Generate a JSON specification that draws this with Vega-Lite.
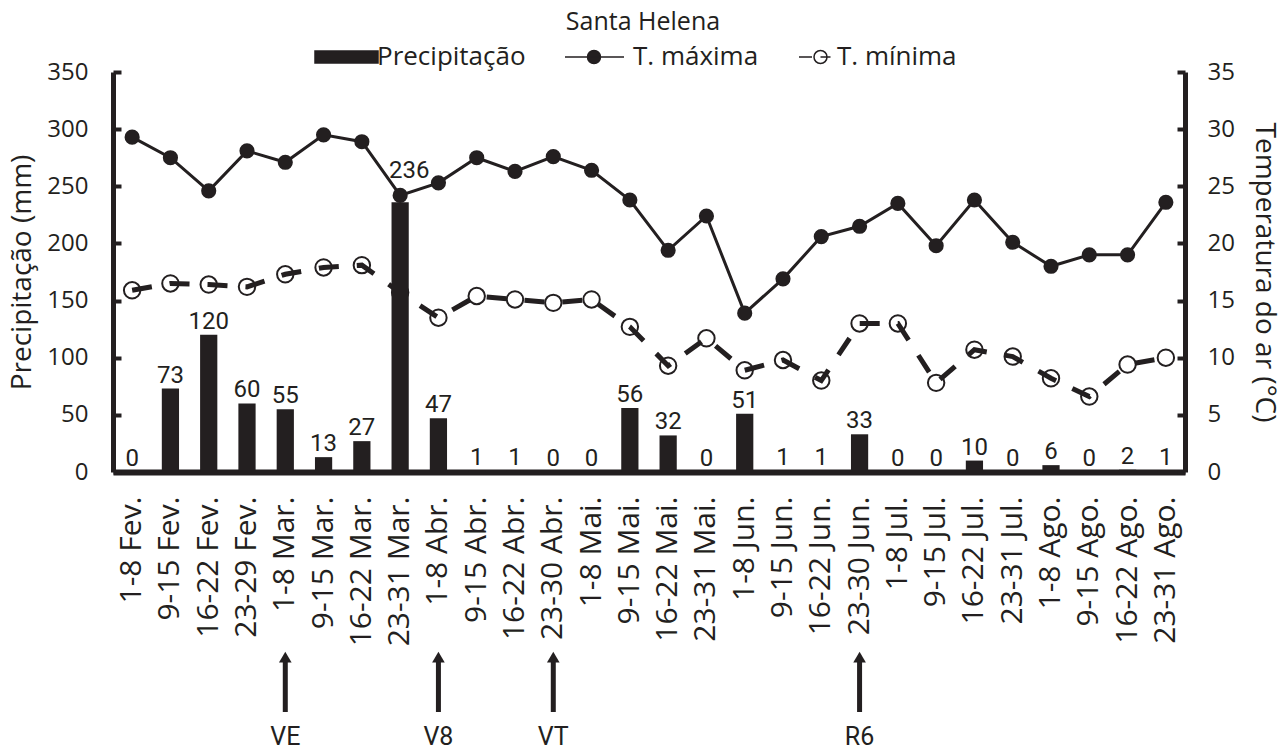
{
  "$schema": "https://vega.github.io/schema/vega-lite/v6.json",
  "autosize": {"type": "none"},
  "width": 1072,
  "height": 400,
  "padding": {"left": 113, "top": 72, "right": 101, "bottom": 279},
  "background": "white",
  "config": {
    "view": {"stroke": null},
    "font": "Open Sans",
    "axis": {"grid": false}
  },
  "title": {
    "text": "Santa Helena",
    "anchor": "middle",
    "frame": "group",
    "dx": -6,
    "offset": 9,
    "font": "Open Sans",
    "fontSize": 25,
    "fontWeight": "normal",
    "color": "#231f20"
  },
  "data": {
    "values": [
      {"period": "1-8 Fev.", "precip": 0, "tmax": 29.3, "tmin": 15.9},
      {"period": "9-15 Fev.", "precip": 73, "tmax": 27.5, "tmin": 16.5},
      {"period": "16-22 Fev.", "precip": 120, "tmax": 24.6, "tmin": 16.4},
      {"period": "23-29 Fev.", "precip": 60, "tmax": 28.1, "tmin": 16.2},
      {"period": "1-8 Mar.", "precip": 55, "tmax": 27.1, "tmin": 17.3},
      {"period": "9-15 Mar.", "precip": 13, "tmax": 29.5, "tmin": 17.9},
      {"period": "16-22 Mar.", "precip": 27, "tmax": 28.9, "tmin": 18.1},
      {"period": "23-31 Mar.", "precip": 236, "tmax": 24.2, "tmin": 15.7},
      {"period": "1-8 Abr.", "precip": 47, "tmax": 25.3, "tmin": 13.5},
      {"period": "9-15 Abr.", "precip": 1, "tmax": 27.5, "tmin": 15.4},
      {"period": "16-22 Abr.", "precip": 1, "tmax": 26.3, "tmin": 15.1},
      {"period": "23-30 Abr.", "precip": 0, "tmax": 27.6, "tmin": 14.8},
      {"period": "1-8 Mai.", "precip": 0, "tmax": 26.4, "tmin": 15.1},
      {"period": "9-15 Mai.", "precip": 56, "tmax": 23.8, "tmin": 12.7},
      {"period": "16-22 Mai.", "precip": 32, "tmax": 19.4, "tmin": 9.3},
      {"period": "23-31 Mai.", "precip": 0, "tmax": 22.4, "tmin": 11.7},
      {"period": "1-8 Jun.", "precip": 51, "tmax": 13.9, "tmin": 8.9},
      {"period": "9-15 Jun.", "precip": 1, "tmax": 16.9, "tmin": 9.8},
      {"period": "16-22 Jun.", "precip": 1, "tmax": 20.6, "tmin": 8.0},
      {"period": "23-30 Jun.", "precip": 33, "tmax": 21.5, "tmin": 13.0},
      {"period": "1-8 Jul.", "precip": 0, "tmax": 23.5, "tmin": 13.0},
      {"period": "9-15 Jul.", "precip": 0, "tmax": 19.8, "tmin": 7.8},
      {"period": "16-22 Jul.", "precip": 10, "tmax": 23.8, "tmin": 10.7},
      {"period": "23-31 Jul.", "precip": 0, "tmax": 20.1, "tmin": 10.1},
      {"period": "1-8 Ago.", "precip": 6, "tmax": 18.0, "tmin": 8.2},
      {"period": "9-15 Ago.", "precip": 0, "tmax": 19.0, "tmin": 6.6},
      {"period": "16-22 Ago.", "precip": 2, "tmax": 19.0, "tmin": 9.4},
      {"period": "23-31 Ago.", "precip": 1, "tmax": 23.6, "tmin": 10.0}
    ]
  },
  "encoding": {
    "x": {
      "field": "period",
      "type": "nominal",
      "sort": null,
      "scale": {
        "domain": ["1-8 Fev.", "9-15 Fev.", "16-22 Fev.", "23-29 Fev.", "1-8 Mar.", "9-15 Mar.", "16-22 Mar.", "23-31 Mar.", "1-8 Abr.", "9-15 Abr.", "16-22 Abr.", "23-30 Abr.", "1-8 Mai.", "9-15 Mai.", "16-22 Mai.", "23-31 Mai.", "1-8 Jun.", "9-15 Jun.", "16-22 Jun.", "23-30 Jun.", "1-8 Jul.", "9-15 Jul.", "16-22 Jul.", "23-31 Jul.", "1-8 Ago.", "9-15 Ago.", "16-22 Ago.", "23-31 Ago."],
        "paddingInner": 0.55,
        "paddingOuter": 0.275
      },
      "axis": {
        "title": null,
        "labelAngle": -90,
        "labelAlign": "right",
        "labelBaseline": "middle",
        "ticks": false,
        "domainWidth": 6,
        "domainColor": "#231f20",
        "labelFont": "Open Sans",
        "labelFontSize": 30,
        "labelColor": "#231f20",
        "labelPadding": 24
      }
    }
  },
  "layer": [
    {
      "encoding": {
        "y": {
          "type": "quantitative",
          "scale": {"domain": [0, 35], "nice": false},
          "axis": {
            "orient": "right",
            "title": "Temperatura do ar (°C)",
            "values": [0, 5, 10, 15, 20, 25, 30, 35],
            "tickSize": -8,
            "tickWidth": 4,
            "tickColor": "#231f20",
            "domainWidth": 5,
            "domainColor": "#231f20",
            "labelFont": "Open Sans",
            "labelFontSize": 24,
            "labelColor": "#231f20",
            "labelPadding": 30,
            "titleFont": "Open Sans",
            "titleFontSize": 28,
            "titleFontWeight": "normal",
            "titleColor": "#231f20",
            "titlePadding": 15
          }
        }
      },
      "layer": [
        {
          "mark": {"type": "point", "shape": "circle", "filled": true, "fill": "white", "stroke": "#231f20", "strokeWidth": 2, "size": 270, "opacity": 1},
          "encoding": {"y": {"field": "tmin", "type": "quantitative"}}
        },
        {
          "mark": {"type": "line", "strokeWidth": 5, "strokeDash": [20, 18], "strokeCap": "butt"},
          "encoding": {
            "y": {"field": "tmin", "type": "quantitative"},
            "color": {"datum": "T. mínima"}
          }
        },
        {
          "mark": {"type": "line", "strokeWidth": 3},
          "encoding": {
            "y": {"field": "tmax", "type": "quantitative"},
            "color": {"datum": "T. máxima"}
          }
        },
        {
          "mark": {"type": "point", "shape": "circle", "filled": true, "color": "#231f20", "size": 230, "opacity": 1},
          "encoding": {"y": {"field": "tmax", "type": "quantitative"}}
        }
      ]
    },
    {
      "encoding": {
        "y": {
          "type": "quantitative",
          "scale": {"domain": [0, 350], "nice": false},
          "axis": {
            "orient": "left",
            "title": "Precipitação (mm)",
            "values": [0, 50, 100, 150, 200, 250, 300, 350],
            "tickSize": -8,
            "tickWidth": 4,
            "tickColor": "#231f20",
            "domainWidth": 5,
            "domainColor": "#231f20",
            "labelFont": "Open Sans",
            "labelFontSize": 24,
            "labelColor": "#231f20",
            "labelPadding": 33,
            "titleFont": "Open Sans",
            "titleFontSize": 28,
            "titleFontWeight": "normal",
            "titleColor": "#231f20",
            "titlePadding": 10
          }
        }
      },
      "layer": [
        {
          "mark": {"type": "bar"},
          "encoding": {
            "y": {"field": "precip", "type": "quantitative"},
            "color": {
              "datum": "Precipitação",
              "scale": {"domain": ["Precipitação", "T. máxima", "T. mínima"], "range": ["#231f20", "#231f20", "#231f20"]},
              "legend": {
                "title": null,
                "orient": "none",
                "direction": "horizontal",
                "legendX": 220.5,
                "legendY": -28,
                "padding": 0,
                "symbolSize": 400,
                "labelOffset": 17.5,
                "columnPadding": 35,
                "labelFont": "Open Sans",
                "labelFontSize": 26,
                "labelColor": "#231f20",
                "labelLimit": 400,
                "encode": {
                  "symbols": {
                    "update": {
                      "shape": {"signal": "datum.value === 'Precipitação' ? 'M-3.15,-0.6H3.15V0.6H-3.15Z' : datum.value === 'T. máxima' ? 'M-3.75,0H2.15M-0.2,0A0.65,0.65,0,1,1,-1.5,0A0.65,0.65,0,1,1,-0.2,0Z' : 'M-0.75,0H0.55M2.05,0A0.65,0.65,0,1,1,0.75,0A0.65,0.65,0,1,1,2.05,0A0.65,0.65,0,1,0,0.75,0A0.65,0.65,0,1,0,2.05,0M1.4,0H2.4'"},
                      "strokeDash": {"value": []},
                      "opacity": {"value": 1}
                    }
                  }
                }
              }
            }
          }
        },
        {
          "transform": [{"filter": "datum.precip <= 200"}],
          "mark": {"type": "text", "baseline": "alphabetic", "dy": -6, "font": "Roboto", "fontSize": 24, "color": "#231f20"},
          "encoding": {
            "y": {"field": "precip", "type": "quantitative"},
            "text": {"field": "precip", "type": "quantitative"}
          }
        },
        {
          "transform": [{"filter": "datum.precip > 200"}],
          "mark": {"type": "text", "baseline": "alphabetic", "dy": -24, "dx": 9, "font": "Roboto", "fontSize": 24, "color": "#231f20"},
          "encoding": {
            "y": {"field": "precip", "type": "quantitative"},
            "text": {"field": "precip", "type": "quantitative"}
          }
        },
        {
          "data": {
            "values": [
              {"period": "1-8 Mar.", "stage": "VE"},
              {"period": "1-8 Abr.", "stage": "V8"},
              {"period": "23-30 Abr.", "stage": "VT"},
              {"period": "23-30 Jun.", "stage": "R6"}
            ]
          },
          "layer": [
            {
              "mark": {"type": "rule", "strokeWidth": 5, "color": "#231f20"},
              "encoding": {"y": {"datum": -165}, "y2": {"datum": -210}}
            },
            {
              "mark": {"type": "point", "shape": "triangle-up", "filled": true, "color": "#231f20", "size": 160, "opacity": 1},
              "encoding": {"y": {"datum": -162}}
            },
            {
              "mark": {"type": "text", "baseline": "middle", "font": "Roboto", "fontSize": 25, "color": "#231f20"},
              "encoding": {"y": {"datum": -232}, "text": {"field": "stage", "type": "nominal"}}
            }
          ]
        }
      ]
    }
  ],
  "resolve": {"scale": {"y": "independent"}}
}
